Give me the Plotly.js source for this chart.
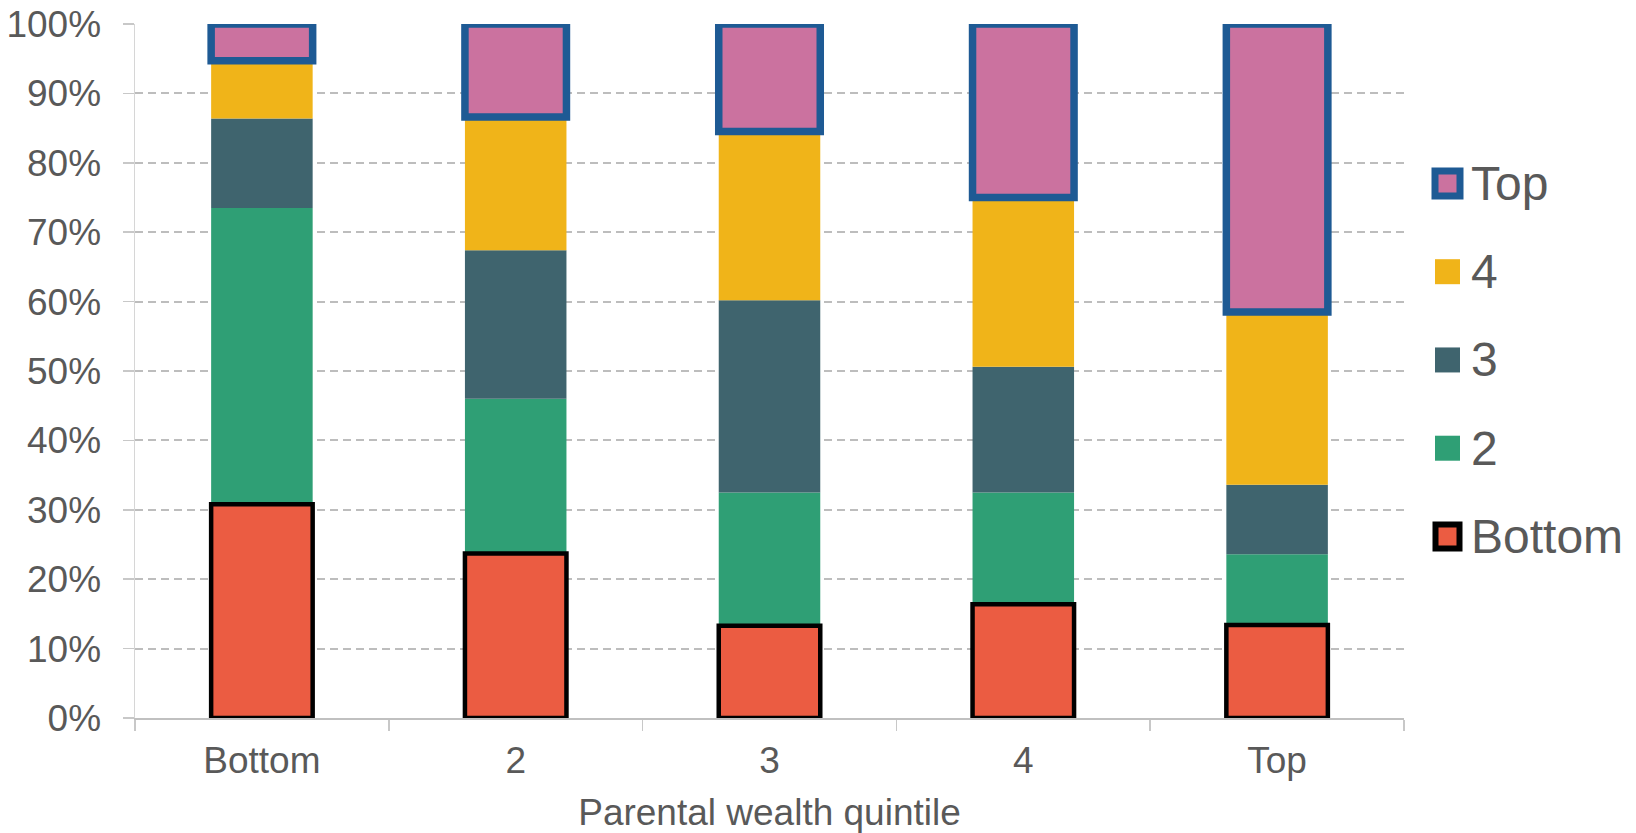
<!DOCTYPE html>
<html>
<head>
<meta charset="utf-8">
<script src="https://cdn.plot.ly/plotly-3.0.1.min.js"></script>
<style>
  html, body { margin: 0; padding: 0; background: #ffffff; }
  #chart { width: 1636px; height: 833px; }
</style>
</head>
<body>
<div id="chart"></div>
<script>
// Parental wealth quintile (x) against the share of children in each own-wealth quintile.
const categories = ['Bottom', '2', '3', '4', 'Top'];
const seriesNames = ['Bottom', '2', '3', '4', 'Top'];

// Shares in percent, stacked bottom-up.
const bottomShare = [30.8, 23.7, 13.3, 16.4, 13.4];
const secondShare = [42.7, 22.3, 19.2, 16.1, 10.2];
const thirdShare  = [12.9, 21.4, 27.7, 18.1, 10.0];
const fourthShare = [8.3, 19.2, 24.3, 24.4, 24.9];
const topShare    = [5.3, 13.4, 15.5, 25.0, 41.5];

const yTickValues = [0, 10, 20, 30, 40, 50, 60, 70, 80, 90, 100];
const yTickLabels = ['0%', '10%', '20%', '30%', '40%', '50%', '60%', '70%', '80%', '90%', '100%'];

const shares = [bottomShare, secondShare, thirdShare, fourthShare, topShare];
const fills = ['#EB5C42', '#2F9F75', '#3F646E', '#F0B419', '#CB729F'];
const outlines = ['#000000', null, null, null, '#1E5A94'];
const outlineWidths = [4.5, 0, 0, 0, 7.5];

// cumulative base for every segment
const bases = shares.map((s, i) =>
  s.map((_, j) => shares.slice(0, i).reduce((acc, arr) => acc + arr[j], 0)));

const FONT = '"Liberation Sans", Arial, sans-serif';
const TEXT = '#595959';

function barTrace(i) {
  return {
    type: 'bar',
    name: seriesNames[i],
    x: categories,
    y: shares[i],
    base: bases[i],
    width: 0.4,
    marker: {
      color: fills[i],
      line: { color: outlines[i] || fills[i], width: outlineWidths[i] }
    },
    hoverinfo: 'skip',
    showlegend: false
  };
}

// outlined segments are drawn last so their borders sit on top
const drawOrder = [1, 2, 3, 0, 4];
const traces = drawOrder.map(barTrace);

// legend, listed top quintile first
const plotLeft = 135, plotRight = 1404, plotTop = 24, plotBottom = 718.3;
const plotW = plotRight - plotLeft, plotH = plotBottom - plotTop;
const legendMarkX = (1447.5 - plotLeft) / plotW;
const legendTextX = (1469 - plotLeft) / plotW;
const legendFirstY = 183.5, legendStep = 88.3;

const shapes = [];
const annotations = [];
[4, 3, 2, 1, 0].forEach((i, k) => {
  const yPaper = (plotBottom - (legendFirstY + k * legendStep)) / plotH;
  const bordered = outlineWidths[i] > 0;
  const half = bordered ? (i === 4 ? 12.5 : 12) : 12.5;
  shapes.push({
    type: 'rect', xref: 'paper', yref: 'paper',
    xsizemode: 'pixel', ysizemode: 'pixel',
    xanchor: legendMarkX, yanchor: yPaper,
    x0: -half, x1: half, y0: -half, y1: half,
    fillcolor: fills[i],
    line: { color: bordered ? outlines[i] : fills[i], width: bordered ? (i === 4 ? 7 : 6) : 0 }
  });
  annotations.push({
    xref: 'paper', yref: 'paper', x: legendTextX, y: yPaper,
    xanchor: 'left', yanchor: 'middle', showarrow: false,
    text: seriesNames[i],
    font: { family: FONT, size: 48, color: TEXT }
  });
});

const layout = {
  width: 1636, height: 833,
  margin: { l: plotLeft, r: 1636 - plotRight, t: plotTop, b: 833 - plotBottom },
  paper_bgcolor: '#ffffff', plot_bgcolor: '#ffffff',
  barmode: 'overlay',
  showlegend: false,
  font: { family: FONT, color: TEXT },
  xaxis: {
    type: 'category',
    range: [-0.5, 4.5],
    showline: true, linecolor: '#C0C0C0', linewidth: 1.5,
    ticks: 'outside', tickson: 'boundaries', ticklen: 11, tickwidth: 1.5, tickcolor: '#C8C8C8',
    showgrid: false, zeroline: false,
    tickfont: { family: FONT, size: 37, color: TEXT },
    ticklabelstandoff: 9,
    title: { text: 'Parental wealth quintile', font: { family: FONT, size: 37, color: TEXT }, standoff: 20 },
    automargin: false, fixedrange: true
  },
  yaxis: {
    range: [0, 100],
    tickvals: yTickValues, ticktext: yTickLabels,
    showline: true, linecolor: '#D6D6D6', linewidth: 1.5,
    ticks: 'outside', ticklen: 11, tickwidth: 1.5, tickcolor: '#C8C8C8',
    showgrid: true, gridcolor: '#BDBDBD', gridwidth: 2, griddash: '8px,5px',
    zeroline: false,
    tickfont: { family: FONT, size: 37, color: TEXT },
    ticklabelstandoff: 14,
    automargin: false, fixedrange: true
  },
  shapes: shapes,
  annotations: annotations
};

Plotly.newPlot('chart', traces, layout, { displayModeBar: false, staticPlot: true });
</script>
</body>
</html>
